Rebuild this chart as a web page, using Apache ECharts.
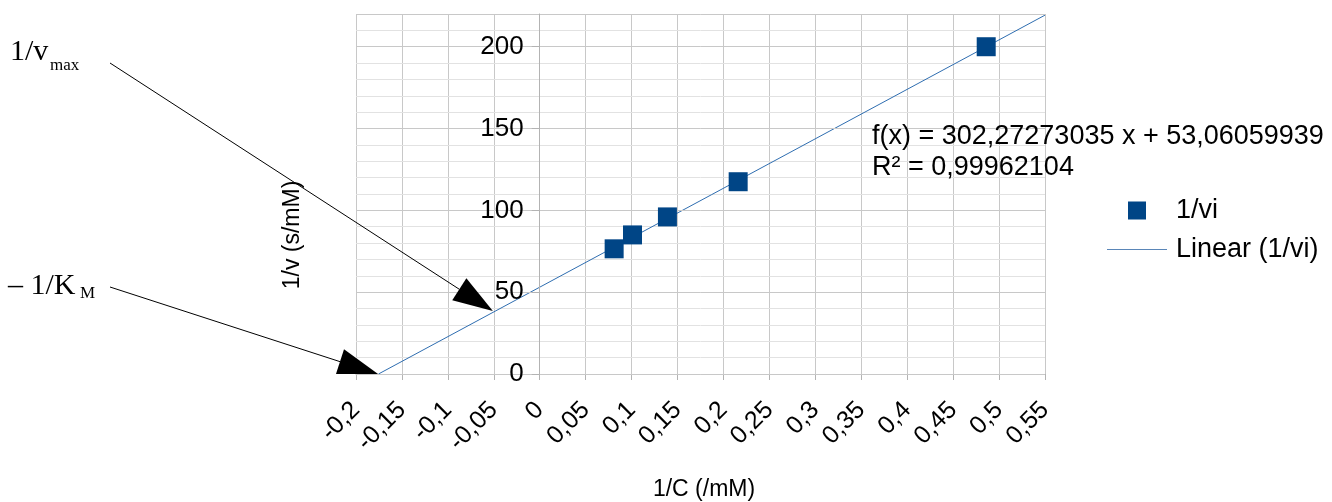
<!DOCTYPE html>
<html>
<head>
<meta charset="utf-8">
<script src="https://cdn.jsdelivr.net/npm/echarts@6/dist/echarts.min.js"></script>
<style>
html,body{margin:0;padding:0;background:#fff;}
#chart{width:1332px;height:502px;}
</style>
</head>
<body>
<div id="chart"></div>
<script>
// ---- data ----
var invC = [0.081, 0.101, 0.139, 0.216, 0.486];      // 1/C (/mM)
var invV = [76.5, 85, 96, 117.5, 200];               // 1/v (s/mM)
var slope = 302.27273035;
var intercept = 53.06059939;
var rSquared = '0,99962104';
var trendXMax = 0.55;
var xTicks = {min: -0.2, max: 0.55, interval: 0.05};
var yTicks = {min: 0, max: 220, interval: 50, minorInterval: 10};
var arrowTips = [[-0.051, 38.5], [-0.176, 0]];       // arrow tips in data space
var seriesName = '1/vi';
var trendName = 'Linear (1/vi)';

var scatterData = invC.map(function (x, i) { return [x, invV[i]]; });
var xRoot = -intercept / slope;
var trendData = [[xRoot, 0], [trendXMax, slope * trendXMax + intercept]];

function fmtComma(v) {
  var s = (+(+v).toFixed(2)).toString();
  return s.replace('.', ',');
}
function fmtCoef(v, d) { return v.toFixed(d).replace('.', ','); }

var FONT = 'Liberation Sans';
var GRID_LEFT = 356;
var chart = echarts.init(document.getElementById('chart'), null, {renderer: 'canvas'});

var option = {
  backgroundColor: '#ffffff',
  animation: false,
  grid: {left: GRID_LEFT, right: 287, top: 14, bottom: 128, containLabel: false},
  xAxis: {
    type: 'value',
    min: xTicks.min, max: xTicks.max, interval: xTicks.interval,
    axisLine: {show: true, onZero: false, lineStyle: {color: '#b3b3b3', width: 1}},
    axisTick: {show: true, length: 6, lineStyle: {color: '#b3b3b3'}},
    splitLine: {show: true, lineStyle: {color: '#c8c8c8', width: 1}},
    axisLabel: {
      rotate: 45, fontSize: 25, fontFamily: FONT, color: '#000', margin: 32,
      formatter: fmtComma, showMinLabel: true, showMaxLabel: true
    }
  },
  yAxis: [{
    type: 'value',
    min: yTicks.min, max: yTicks.max, interval: yTicks.interval,
    offset: 0,
    axisLine: {show: true, onZero: false, lineStyle: {color: '#b3b3b3', width: 1}},
    axisTick: {show: true, length: 8, lineStyle: {color: '#b3b3b3'}},
    splitLine: {show: true, lineStyle: {color: '#c8c8c8', width: 1}},
    axisLabel: {
      fontSize: 26, fontFamily: FONT, color: '#000', margin: 16,
      padding: [4, 0, 0, 0],
      showMaxLabel: false,
      formatter: function (v) { return (v % 50 === 0 && v <= 200) ? String(v) : ''; }
    },
    z: 3
  }, {
    type: 'value',
    min: yTicks.min, max: yTicks.max, interval: yTicks.minorInterval,
    axisLine: {show: false}, axisTick: {show: false}, axisLabel: {show: false},
    splitLine: {show: true, lineStyle: {color: '#e2e2e2', width: 1}},
    z: 1
  }],
  legend: {
    orient: 'vertical',
    left: 1107, top: 197, padding: 0,
    itemWidth: 60, itemHeight: 18, itemGap: 12,
    textStyle: {fontSize: 27, fontFamily: FONT, color: '#000', padding: [0, 0, 0, 4]},
    data: [
      {name: seriesName, icon: 'path://M21,0h18v18h-18z M0,8.99h0.01v0.01h-0.01z M59.99,8.99h0.01v0.01h-0.01z'},
      {name: trendName, icon: 'path://M0,0h60v1.2h-60z'}
    ]
  },
  series: [{
    name: trendName,
    type: 'line',
    data: trendData,
    symbol: 'none',
    lineStyle: {color: '#2e6db0', width: 1},
    itemStyle: {color: '#5a86b8'},
    z: 2
  }, {
    name: seriesName,
    type: 'scatter',
    data: scatterData,
    symbol: 'rect',
    symbolSize: 19,
    itemStyle: {color: '#004586', opacity: 1},
    z: 3
  }]
};
chart.setOption(option);

// place the y axis on x = 0 (the x axis crosses there)
var zeroX = chart.convertToPixel({xAxisIndex: 0}, 0);
chart.setOption({yAxis: [{offset: -(zeroX - GRID_LEFT)}, {}]});

function arrowGraphics(tail, tip) {
  var dx = tip[0] - tail[0], dy = tip[1] - tail[1];
  var len = Math.sqrt(dx * dx + dy * dy);
  var ux = dx / len, uy = dy / len;
  var L = 40, W = 13;
  var bx = tip[0] - ux * L, by = tip[1] - uy * L;
  return [{
    type: 'line', silent: true, z: 10,
    shape: {x1: tail[0], y1: tail[1], x2: bx, y2: by},
    style: {stroke: '#000', lineWidth: 1}
  }, {
    type: 'polygon', silent: true, z: 10,
    shape: {points: [[tip[0], tip[1]], [bx - uy * W, by + ux * W], [bx + uy * W, by - ux * W]]},
    style: {fill: '#000'}
  }];
}

var tip1 = chart.convertToPixel({xAxisIndex: 0, yAxisIndex: 0}, arrowTips[0]);
var tip2 = chart.convertToPixel({xAxisIndex: 0, yAxisIndex: 0}, arrowTips[1]);

var graphics = [];
graphics = graphics.concat(arrowGraphics([110, 63], tip1));
graphics = graphics.concat(arrowGraphics([110, 287], tip2));
graphics.push(
  {type: 'text', left: 10, top: 37, z: 10, style: {text: '1/v', fontSize: 30, fontFamily: 'Liberation Serif', fill: '#000'}},
  {type: 'text', left: 50, top: 57, z: 10, style: {text: 'max', fontSize: 17, fontFamily: 'Liberation Serif', fill: '#000'}},
  {type: 'text', left: 8, top: 271, z: 10, style: {text: '\u2013 1/K', fontSize: 30, fontFamily: 'Liberation Serif', fill: '#000'}},
  {type: 'text', left: 80, top: 285, z: 10, style: {text: 'M', fontSize: 17, fontFamily: 'Liberation Serif', fill: '#000'}},
  {type: 'text', left: 872, top: 121, z: 10, style: {
    text: 'f(x) = ' + fmtCoef(slope, 8) + ' x + ' + fmtCoef(intercept, 8) + '\nR\u00b2 = ' + rSquared,
    fontSize: 27, lineHeight: 31, fontFamily: FONT, fill: '#000'}},
  {type: 'text', x: 293, y: 235, rotation: Math.PI / 2, z: 10, style: {
    text: '1/v (s/mM)', fontSize: 23, fontFamily: FONT, fill: '#000', align: 'center', verticalAlign: 'middle'}},
  {type: 'text', x: 704, y: 490, z: 10, style: {
    text: '1/C (/mM)', fontSize: 23, fontFamily: FONT, fill: '#000', align: 'center', verticalAlign: 'middle'}}
);
chart.setOption({graphic: graphics});
</script>
</body>
</html>
